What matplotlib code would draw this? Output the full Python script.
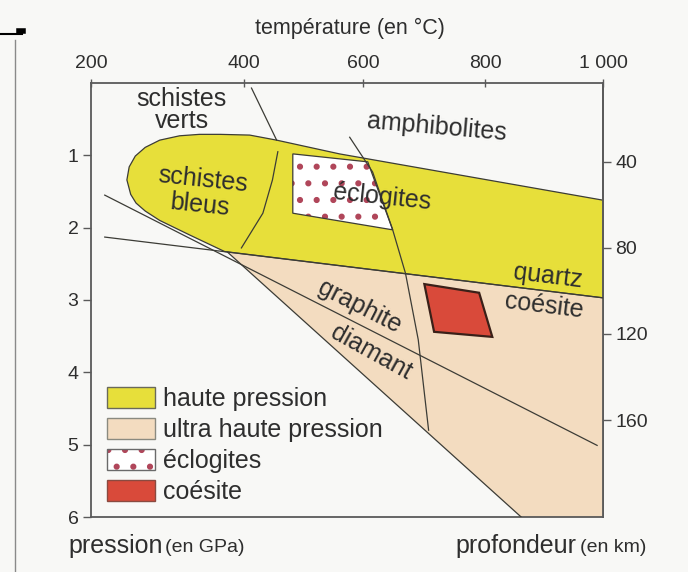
import numpy as np
import matplotlib
matplotlib.use('Agg')
import matplotlib.pyplot as plt
from matplotlib.patches import Polygon, Patch
from matplotlib.lines import Line2D
from matplotlib.legend_handler import HandlerTuple

plt.rcParams['font.family'] = ['Liberation Sans', 'DejaVu Sans']
plt.rcParams['hatch.linewidth'] = 2.0

# temperature scale (the printed scale is not linear between 200 and 400)
temp_ticks = [200, 400, 600, 800, 1000]
temp_labels = ['200', '400', '600', '800', '1 000']
temp_pos = [0, 153, 273, 395, 513]
pres_ticks = [1, 2, 3, 4, 5, 6]
depth_ticks = [40, 80, 120, 160]

# haute pression domain (T in °C, P in GPa)
hp_T = [247, 250, 258, 271, 290, 316, 342, 369, 410, 455, 560, 1000,
        1000, 375, 329, 290, 271, 259, 252]
hp_P = [1.34, 1.16, 1.01, 0.89, 0.79, 0.73, 0.71, 0.71, 0.72, 0.79, 0.98, 1.62,
        2.97, 2.33, 2.10, 1.90, 1.77, 1.66, 1.54]

# ultra haute pression domain
uhp_T = [379, 1000, 1000, 861]
uhp_P = [2.34, 2.97, 6.0, 6.0]

# eclogite field and coesite samples
ecl_T = [482, 607, 648, 482]
ecl_P = [0.98, 1.09, 2.03, 1.80]
coe_T = [700, 790, 812, 716]
coe_P = [2.78, 2.90, 3.51, 3.44]

# reaction / facies boundaries
quartz_T = [218, 1000]
quartz_P = [2.13, 2.97]
graph_T = [218, 990]
graph_P = [1.55, 5.01]
uhp_low_T = [379, 861]
uhp_low_P = [2.34, 6.0]
verts_T = [413, 455]
verts_P = [0.07, 0.79]
bleus_T = [457, 448, 432, 397]
bleus_P = [0.95, 1.34, 1.80, 2.28]
amph_T = [577, 615, 648, 669, 690, 707]
amph_P = [0.75, 1.23, 2.03, 2.63, 3.55, 4.80]

YELLOW = '#e7df3a'
BEIGE = '#f3dcc0'
RED = '#d94a3a'
DOT = '#b0465a'
LINE = '#3c3c36'
TXT = '#2e2e2e'
BG = '#f8f8f6'

_tb = [-10000] + temp_ticks + [10000]
_xb = [-10200 * 153 / 200] + temp_pos + [temp_pos[-1] + 9000 * 118 / 200]


def t2x(t):
    return np.interp(t, _tb, _xb)


def x2t(x):
    return np.interp(x, _xb, _tb)


fig = plt.figure(figsize=(6.88, 5.72), dpi=100, facecolor=BG)
ax = fig.add_axes([91 / 688, 55 / 572, 512 / 688, 434 / 572], facecolor=BG)
ax.set_xscale('function', functions=(t2x, x2t))
ax.set_xlim(200, 1000)
ax.set_ylim(6, 0)

ax.add_patch(Polygon(np.column_stack([uhp_T, uhp_P]), closed=True,
                     facecolor=BEIGE, edgecolor='none', zorder=1))
ax.add_patch(Polygon(np.column_stack([hp_T, hp_P]), closed=True,
                     facecolor=YELLOW, edgecolor=LINE, lw=0.9, zorder=2))
ecl_xy = np.column_stack([ecl_T, ecl_P])
ax.add_patch(Polygon(ecl_xy, closed=True, facecolor='white', edgecolor=DOT,
                     lw=0, hatch='.', zorder=3))
ax.add_patch(Polygon(ecl_xy, closed=True, facecolor='none', edgecolor=LINE,
                     lw=0.9, zorder=4))
ax.add_patch(Polygon(np.column_stack([coe_T, coe_P]), closed=True,
                     facecolor=RED, edgecolor='#3a2018', lw=1.6, zorder=4))

for tt, pp in [(quartz_T, quartz_P), (graph_T, graph_P), (uhp_low_T, uhp_low_P),
               (verts_T, verts_P), (bleus_T, bleus_P), (amph_T, amph_P)]:
    ax.plot(tt, pp, color=LINE, lw=0.9, zorder=5)

# field names
kw = dict(color=TXT, fontsize=18, ha='center', va='center', zorder=6)
ax.text(319, 0.37, 'schistes\nverts', linespacing=0.9, **kw)
ax.text(720, 0.61, 'amphibolites', rotation=-5, **kw)
ax.text(345, 1.51, 'schistes\nbleus', rotation=-6, linespacing=1.1, **kw)
ax.text(630, 1.58, 'éclogites', rotation=-6, **kw)
ax.text(907, 2.67, 'quartz', rotation=-7, **kw)
ax.text(900, 3.08, 'coésite', rotation=-7, **kw)
ax.text(593, 3.10, 'graphite', rotation=-27, **kw)
ax.text(613, 3.73, 'diamant', rotation=-29, **kw)

# axes styling
for side in ['left', 'top', 'right', 'bottom']:
    ax.spines[side].set_color('#5a5a5a')
    ax.spines[side].set_linewidth(1.3)
ax.xaxis.tick_top()
ax.set_xticks(temp_ticks)
ax.set_xticklabels(temp_labels)
ax.xaxis.set_minor_locator(matplotlib.ticker.NullLocator())
ax.tick_params(axis='x', direction='inout', length=6, width=1, colors='#5a5a5a',
               labelcolor=TXT, labelsize=14, pad=5)
ax.set_yticks(pres_ticks)
ax.tick_params(axis='y', direction='out', length=6, width=1, colors='#5a5a5a',
               labelcolor=TXT, labelsize=14, pad=3)

sec = ax.secondary_yaxis('right', functions=(lambda p: (p + 0.10) / 0.02975,
                                             lambda d: -0.10 + 0.02975 * d))
sec.set_yticks(depth_ticks)
sec.spines['right'].set_color('#5a5a5a')
sec.spines['right'].set_linewidth(1.3)
sec.tick_params(direction='out', length=6, width=1, colors='#5a5a5a',
                labelcolor=TXT, labelsize=14, pad=3)

# legend
handles = [Patch(facecolor=YELLOW, edgecolor='#6a6a5a', lw=1),
           Patch(facecolor=BEIGE, edgecolor='#8a8a80', lw=1),
           (Patch(facecolor='white', edgecolor=DOT, lw=0, hatch='.'),
            Patch(facecolor='none', edgecolor='#6a6a6a', lw=1)),
           Patch(facecolor=RED, edgecolor='#8a4a40', lw=1)]
labels = ['haute pression', 'ultra haute pression', 'éclogites', 'coésite']
ax.legend(handles, labels, loc='upper left', bbox_to_anchor=(0.031, 0.30),
          frameon=False, fontsize=18, handlelength=1.92, handleheight=0.92,
          handletextpad=0.32, labelspacing=0.28, borderpad=0, borderaxespad=0,
          labelcolor=TXT, handler_map={tuple: HandlerTuple(ndivide=1)})

# axis titles
fig.text(350 / 688, 1 - 28 / 572, 'température (en °C)', fontsize=15.5,
         color=TXT, ha='center', va='center')
fig.text(68 / 688, 1 - 546 / 572, 'pression', fontsize=18, color=TXT,
         ha='left', va='center')
fig.text(165 / 688, 1 - 547 / 572, '(en GPa)', fontsize=14, color=TXT,
         ha='left', va='center')
fig.text(455 / 688, 1 - 546 / 572, 'profondeur', fontsize=18, color=TXT,
         ha='left', va='center')
fig.text(580 / 688, 1 - 547 / 572, '(en km)', fontsize=14, color=TXT,
         ha='left', va='center')

# page edge marks at the top left
fig.add_artist(Line2D([0, 22 / 688], [1 - 34 / 572] * 2, color='black', lw=1.5))
fig.add_artist(Line2D([19 / 688, 23 / 688], [1 - 31 / 572] * 2, color='black', lw=4))
fig.add_artist(Line2D([15 / 688] * 2, [1 - 40 / 572, 0], color='#8a8a8a', lw=1))

fig.savefig('out.png', dpi=100, facecolor=BG)
